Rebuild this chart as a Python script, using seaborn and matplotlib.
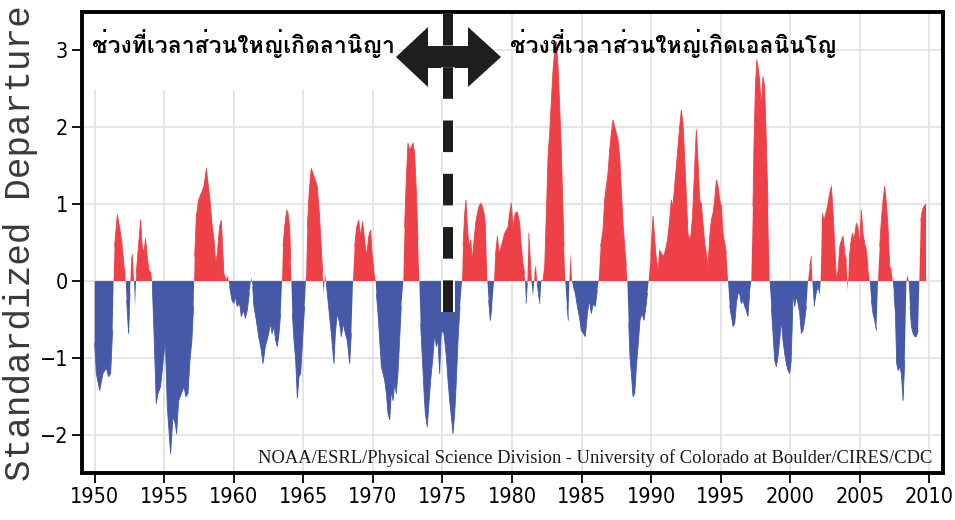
import numpy as np
import pandas as pd
import matplotlib
matplotlib.use("Agg")
import matplotlib.pyplot as plt
import seaborn as sns
from matplotlib import font_manager
from matplotlib.ft2font import FT2Font
from matplotlib.font_manager import FontProperties
from matplotlib.patches import Polygon, Rectangle
import matplotlib.patheffects as pe

# ---------------- data ----------------
t_1950s = [1950.0, 1950.12, 1950.36, 1950.6, 1950.84, 1951.0, 1951.15, 1951.29, 1951.36, 1951.43,
           1951.63, 1951.79, 1951.96, 1952.11, 1952.2, 1952.3, 1952.44, 1952.54, 1952.63, 1952.73,
           1952.83, 1952.9, 1952.99, 1953.11, 1953.3, 1953.42, 1953.54, 1953.66, 1953.78, 1953.9,
           1954.07, 1954.14, 1954.26, 1954.43, 1954.55, 1954.74, 1954.93, 1955.08, 1955.22, 1955.46,
           1955.63, 1955.8, 1955.89, 1956.04, 1956.23, 1956.42, 1956.56, 1956.71, 1956.85, 1956.99,
           1957.11, 1957.19, 1957.31, 1957.47, 1957.67, 1957.86, 1958.03, 1958.15, 1958.29, 1958.43,
           1958.58, 1958.7, 1958.82, 1958.98, 1959.1, 1959.2, 1959.29, 1959.44, 1959.58, 1959.7, 1959.87]
v_1950s = [-0.81, -1.2, -1.42, -1.2, -1.13, -1.24, -1.2, -0.64, 0.0, 0.45,
           0.86, 0.7, 0.49, 0.19, 0.1, -0.25, -0.68, -0.16, 0.27, 0.34,
           0.0, -0.33, 0.1, 0.36, 0.79, 0.45, 0.36, 0.55, 0.32, 0.14,
           0.1, -0.03, -0.64, -1.59, -1.46, -1.37, -1.03, -0.77, -1.63, -2.24,
           -1.76, -1.85, -1.98, -1.55, -1.46, -1.37, -1.5, -1.46, -1.03, -0.77,
           -0.33, 0.32, 0.84, 1.05, 1.14, 1.23, 1.46, 1.27, 1.05, 0.75,
           0.53, 0.23, 0.36, 0.71, 0.79, 0.45, 0.1, 0.01, 0.06, -0.07, -0.25]

t_1960s = [1960.01, 1960.11, 1960.25, 1960.42, 1960.54, 1960.69, 1960.83, 1960.97, 1961.12, 1961.26,
           1961.36, 1961.45, 1961.62, 1961.79, 1961.98, 1962.1, 1962.27, 1962.46, 1962.65, 1962.75,
           1962.89, 1963.01, 1963.13, 1963.25, 1963.37, 1963.47, 1963.54, 1963.66, 1963.8, 1963.9,
           1964.02, 1964.09, 1964.14, 1964.21, 1964.33, 1964.45, 1964.57, 1964.69, 1964.81, 1964.97,
           1965.09, 1965.19, 1965.29, 1965.43, 1965.57, 1965.69, 1965.86, 1966.0, 1966.15, 1966.29,
           1966.39, 1966.46, 1966.56, 1966.65, 1966.77, 1966.89, 1967.01, 1967.2, 1967.3, 1967.44,
           1967.61, 1967.73, 1967.87, 1968.02, 1968.16, 1968.33, 1968.45, 1968.57, 1968.69, 1968.83,
           1968.98, 1969.12, 1969.26, 1969.41, 1969.55, 1969.7, 1969.84, 1969.94]
v_1960s = [-0.29, -0.2, -0.33, -0.29, -0.46, -0.38, -0.48, -0.38, -0.16, 0.05,
           -0.07, -0.33, -0.51, -0.72, -0.9, -1.07, -0.85, -0.72, -0.55, -0.68,
           -0.59, -0.77, -0.85, -0.68, -0.42, 0.0, 0.45, 0.7, 0.92, 0.88,
           0.7, 0.27, 0.0, -0.42, -0.77, -1.03, -1.52, -1.24, -1.2, -0.68,
           -0.33, 0.0, 0.7, 1.18, 1.46, 1.4, 1.31, 1.23, 0.88, 0.45,
           0.1, -0.16, 0.1, -0.03, -0.25, -0.46, -0.68, -1.07, -0.68, -0.42,
           -0.55, -0.72, -0.55, -0.68, -0.77, -1.07, -0.68, 0.0, 0.45, 0.7,
           0.79, 0.58, 0.77, 0.53, 0.32, 0.58, 0.66, 0.36]

t_1970s = [1970.08, 1970.2, 1970.25, 1970.37, 1970.49, 1970.61, 1970.73, 1970.85, 1970.97, 1971.09,
           1971.21, 1971.33, 1971.45, 1971.56, 1971.68, 1971.8, 1971.92, 1972.04, 1972.19, 1972.28,
           1972.4, 1972.52, 1972.64, 1972.76, 1972.88, 1973.0, 1973.12, 1973.24, 1973.34, 1973.43,
           1973.55, 1973.67, 1973.77, 1973.91, 1974.01, 1974.15, 1974.32, 1974.44, 1974.56, 1974.68,
           1974.8, 1974.92, 1975.11, 1975.28, 1975.4, 1975.52, 1975.64, 1975.76, 1975.88, 1976.0,
           1976.12, 1976.26, 1976.41, 1976.48, 1976.6, 1976.69, 1976.79, 1976.91, 1977.03, 1977.15,
           1977.27, 1977.39, 1977.51, 1977.63, 1977.75, 1977.87, 1977.99, 1978.11, 1978.23, 1978.32,
           1978.44, 1978.56, 1978.71, 1978.8, 1978.95, 1979.07, 1979.23, 1979.47, 1979.71, 1979.83, 1979.95]
v_1970s = [0.14, 0.0, -0.16, -0.42, -0.77, -1.11, -1.2, -1.29, -1.46, -1.72,
           -1.8, -1.42, -1.55, -1.33, -1.46, -1.2, -0.77, -0.33, 0.0, 0.7,
           1.31, 1.79, 1.7, 1.74, 1.79, 1.66, 1.18, 0.53, 0.0, -0.55,
           -0.98, -1.42, -1.72, -1.89, -1.63, -1.29, -0.98, -0.68, -0.85, -0.77,
           -1.2, -0.64, -0.68, -0.98, -1.29, -1.55, -1.76, -1.98, -1.72, -1.29,
           -0.77, -0.33, 0.0, 0.45, 0.88, 1.05, 0.7, 0.45, 0.53, 0.27,
           0.53, 0.75, 0.88, 0.97, 1.01, 0.97, 0.88, 0.7, 0.0, -0.25,
           -0.51, -0.33, 0.0, 0.32, 0.58, 0.36, 0.45, 0.62, 0.7, 0.88, 1.01]

t_1980s = [1980.07, 1980.24, 1980.38, 1980.55, 1980.67, 1980.79, 1980.91, 1981.01, 1981.1, 1981.2,
           1981.29, 1981.39, 1981.51, 1981.63, 1981.72, 1981.82, 1981.92, 1982.01, 1982.11, 1982.23,
           1982.35, 1982.47, 1982.59, 1982.71, 1982.83, 1982.95, 1983.07, 1983.19, 1983.31, 1983.43,
           1983.55, 1983.67, 1983.74, 1983.83, 1983.95, 1984.05, 1984.12, 1984.22, 1984.31, 1984.41,
           1984.55, 1984.7, 1984.84, 1984.98, 1985.13, 1985.27, 1985.42, 1985.56, 1985.7, 1985.85,
           1985.99, 1986.13, 1986.23, 1986.37, 1986.54, 1986.66, 1986.78, 1986.9, 1987.02, 1987.14,
           1987.26, 1987.38, 1987.5, 1987.62, 1987.74, 1987.86, 1987.98, 1988.1, 1988.22, 1988.29,
           1988.39, 1988.48, 1988.58, 1988.7, 1988.82, 1988.94, 1989.06, 1989.2, 1989.35, 1989.49,
           1989.63, 1989.73, 1989.82, 1989.97]
v_1980s = [0.7, 0.88, 0.9, 0.75, 0.45, 0.23, 0.1, -0.29, -0.03, 0.62,
           0.36, 0.01, -0.2, 0.1, 0.19, -0.03, -0.2, -0.29, 0.01, 0.01,
           0.19, 0.88, 1.61, 1.92, 2.35, 2.74, 3.0, 3.1, 2.78, 2.26,
           1.66, 0.88, 0.45, 0.0, -0.33, -0.51, 0.0, 0.36, 0.0, -0.07,
           -0.16, -0.33, -0.46, -0.64, -0.68, -0.72, -0.42, -0.25, -0.42, -0.29,
           -0.33, -0.12, 0.0, 0.45, 0.66, 1.05, 1.23, 1.4, 1.7, 1.92,
           2.09, 2.0, 1.92, 1.83, 1.61, 1.18, 0.75, 0.45, 0.19, 0.0,
           -0.55, -0.98, -1.2, -1.5, -1.46, -1.11, -0.85, -0.51, -0.42, -0.51,
           -0.33, -0.16, 0.0, 0.32]

t_1990s = [1990.14, 1990.26, 1990.38, 1990.5, 1990.62, 1990.74, 1990.86, 1990.97, 1991.09, 1991.21,
           1991.33, 1991.45, 1991.57, 1991.69, 1991.81, 1991.93, 1992.05, 1992.17, 1992.29, 1992.41,
           1992.53, 1992.65, 1992.77, 1992.89, 1993.01, 1993.13, 1993.25, 1993.37, 1993.49, 1993.61,
           1993.73, 1993.85, 1993.97, 1994.09, 1994.21, 1994.33, 1994.45, 1994.57, 1994.69, 1994.81,
           1994.93, 1995.05, 1995.17, 1995.29, 1995.41, 1995.53, 1995.65, 1995.77, 1995.89, 1996.01,
           1996.13, 1996.25, 1996.36, 1996.48, 1996.6, 1996.73, 1996.84, 1996.96, 1997.08, 1997.2,
           1997.32, 1997.4, 1997.49, 1997.59, 1997.68, 1997.8, 1997.92, 1998.04, 1998.16, 1998.28,
           1998.4, 1998.52, 1998.64, 1998.76, 1998.88, 1999.0, 1999.12, 1999.24, 1999.36, 1999.48,
           1999.6, 1999.72, 1999.84, 1999.96]
v_1990s = [0.84, 0.53, 0.27, 0.14, 0.4, 0.36, 0.32, 0.36, 0.45, 0.58,
           0.79, 1.05, 0.97, 1.23, 1.48, 1.74, 2.0, 2.22, 2.05, 1.61,
           1.1, 0.62, 0.53, 0.62, 0.97, 1.48, 1.96, 1.57, 1.05, 1.0,
           0.75, 0.49, 0.36, 0.19, 0.58, 0.79, 0.88, 1.05, 1.31, 1.23,
           1.05, 0.97, 0.62, 0.49, 0.36, 0.0, -0.33, -0.46, -0.59, -0.55,
           -0.29, -0.16, -0.16, -0.29, -0.25, -0.33, -0.38, -0.46, -0.16, 0.0,
           0.97, 1.83, 2.48, 2.87, 2.78, 2.61, 2.26, 2.65, 2.52, 1.83,
           0.97, 0.0, -0.33, -0.68, -1.03, -1.11, -0.98, -0.77, -0.51, -0.77,
           -0.94, -1.07, -1.16, -1.2]

t_2000s = [2000.06, 2000.14, 2000.2, 2000.32, 2000.44, 2000.56, 2000.68, 2000.8, 2000.92, 2001.04,
           2001.16, 2001.28, 2001.4, 2001.52, 2001.59, 2001.71, 2001.86, 2002.0, 2002.12, 2002.19,
           2002.29, 2002.43, 2002.57, 2002.72, 2002.84, 2002.96, 2003.08, 2003.2, 2003.32, 2003.44,
           2003.56, 2003.68, 2003.8, 2003.92, 2004.04, 2004.13, 2004.23, 2004.35, 2004.47, 2004.59,
           2004.75, 2004.87, 2004.99, 2005.11, 2005.23, 2005.35, 2005.47, 2005.59, 2005.71, 2005.83,
           2005.95, 2006.07, 2006.19, 2006.31, 2006.43, 2006.55, 2006.67, 2006.79, 2006.91, 2007.03,
           2007.15, 2007.27, 2007.37, 2007.46, 2007.56, 2007.65, 2007.75, 2007.87, 2007.99, 2008.11,
           2008.23, 2008.35, 2008.42, 2008.52, 2008.61, 2008.71, 2008.83, 2008.95, 2009.07, 2009.19,
           2009.28, 2009.38, 2009.5, 2009.62, 2009.71, 2009.76]
v_2000s = [-1.05, -0.6, -0.16, -0.33, -0.2, -0.29, -0.42, -0.68, -0.64, -0.51,
           -0.33, 0.0, 0.19, 0.32, 0.0, -0.33, -0.16, -0.07, -0.16, 0.0,
           0.88, 0.79, 0.88, 1.01, 1.14, 1.23, 0.88, 0.45, 0.01, 0.14,
           0.45, 0.53, 0.58, 0.36, 0.27, -0.12, 0.27, 0.49, 0.62, 0.53,
           0.75, 0.7, 0.45, 0.92, 0.62, 0.49, 0.4, 0.19, 0.0, -0.25,
           -0.42, -0.51, -0.64, 0.0, 0.45, 0.79, 1.05, 1.23, 1.01, 0.7,
           0.19, 0.14, 0.0, -0.16, -0.42, -1.07, -1.16, -1.11, -1.2, -1.55,
           -1.03, 0.0, 0.08, 0.0, -0.33, -0.59, -0.68, -0.72, -0.72, -0.64,
           0.0, 0.79, 0.92, 0.97, 0.99, 0.99]

year_ticks = list(range(1950, 2011, 5))
value_ticks = [-2, -1, 0, 1, 2, 3]
ylabel_text = "Standardized Departure"
credit_text = "NOAA/ESRL/Physical Science Division - University of Colorado at Boulder/CIRES/CDC"
label_la_nina = "ช่วงที่เวลาส่วนใหญ่เกิดลานิญา"
label_el_nino = "ช่วงที่เวลาส่วนใหญ่เกิดเอลนินโญ"
divider_year = 1975.4

df = pd.DataFrame({
    "year": np.concatenate([t_1950s, t_1960s, t_1970s, t_1980s, t_1990s, t_2000s]),
    "mei": np.concatenate([v_1950s, v_1960s, v_1970s, v_1980s, v_1990s, v_2000s]),
})
sgn = np.sign(df["mei"])
df["seg"] = (sgn != sgn.shift()).cumsum()

RED = "#EE4147"
BLUE = "#4559A8"

# ---------------- fonts ----------------
sns.set_theme(style="whitegrid")
plt.rcParams["font.family"] = ["DejaVu Sans"]

def wnum(f):
    w = f.weight
    if isinstance(w, (int, float)):
        return w
    return {"bold": 700, "normal": 400, "regular": 400, "medium": 500,
            "semibold": 600, "light": 300}.get(str(w).lower(), 400)

def font_file_with(sample, target_weight=700):
    cands = []
    for f in font_manager.fontManager.ttflist:
        try:
            cmap = FT2Font(f.fname).get_charmap()
        except Exception:
            continue
        if all(ord(c) in cmap for c in sample):
            cands.append(f)
    if not cands:
        return None
    cands.sort(key=lambda f: (f.style != "normal", abs(wnum(f) - target_weight)))
    return cands[0].fname

names = {f.name for f in font_manager.fontManager.ttflist}
thai_file = font_file_with("ชวงทเลาสนใหญกิดานโ")
thai_fp = (FontProperties(fname=thai_file, size=16.5) if thai_file
           else FontProperties(family="DejaVu Sans", weight="bold", size=16.5))

if "Liberation Sans Narrow" in names:
    tick_fp = FontProperties(family="Liberation Sans Narrow", size=17)
else:
    tick_fp = FontProperties(family="DejaVu Sans", stretch="condensed", size=15.5)

# ---------------- figure ----------------
W, H = 955, 520
fig = plt.figure(figsize=(W / 100, H / 100), dpi=100)
fig.patch.set_facecolor("white")
ax = fig.add_axes([82 / W, 1 - 473 / H, (943 - 82) / W, (473 - 12) / H])
ax.set_facecolor("white")

def fx(px):
    return px / W

def fy(py):
    return 1 - py / H

ax.fill_between(df["year"], df["mei"], 0, where=df["mei"] >= 0, interpolate=True,
                color=RED, lw=0, zorder=2)
ax.fill_between(df["year"], df["mei"], 0, where=df["mei"] <= 0, interpolate=True,
                color=BLUE, lw=0, zorder=2)
sns.lineplot(data=df[df["mei"] > 0], x="year", y="mei", units="seg", estimator=None,
             color=RED, lw=0.6, ax=ax, zorder=2)
sns.lineplot(data=df[df["mei"] < 0], x="year", y="mei", units="seg", estimator=None,
             color=BLUE, lw=0.6, ax=ax, zorder=2)

ax.set_xlim(1949.09, 2010.98)
ax.set_ylim(-2.49, 3.49)
ax.set_xticks(year_ticks)
ax.set_yticks(value_ticks)
ax.set_xlabel("")
ax.set_ylabel("")
ax.set_axisbelow(True)
ax.grid(True, color="#e3e3e3", lw=1.3)

for s in ax.spines.values():
    s.set_visible(True)
    s.set_color("black")
    s.set_linewidth(2.8)

ax.tick_params(axis="both", which="major", bottom=True, left=True, direction="out",
               length=7, width=1.3, color="black", labelcolor="black", pad=3)
for lab in ax.get_xticklabels() + ax.get_yticklabels():
    lab.set_fontproperties(tick_fp)

# white panel behind the left caption
ax.add_patch(Rectangle((1949.09, 2.48), 1971.8 - 1949.09, 1.2, facecolor="white",
                       edgecolor="none", zorder=1.2))

# double-headed arrow
arrow_px = [(396, 57), (428, 27), (428, 46), (468, 46), (468, 27), (501, 57),
            (468, 87), (468, 68), (428, 68), (428, 87)]
ax.add_patch(Polygon([(fx(x), fy(y)) for x, y in arrow_px], closed=True,
                     facecolor="#1e1e1e", edgecolor="none", transform=fig.transFigure,
                     clip_on=False, zorder=6))

# dashed divider
ax.plot([divider_year, divider_year], [-0.40, 3.65], color="#1e1e1e", lw=7.2,
        dashes=(3.16, 2.17), solid_capstyle="butt", dash_capstyle="butt",
        clip_on=False, zorder=7,
        path_effects=[pe.Stroke(linewidth=10, foreground="white"), pe.Normal()])

# captions
ax.text(fx(92), fy(53), label_la_nina, fontproperties=thai_fp, color="black",
        ha="left", va="baseline", transform=fig.transFigure, zorder=8)
ax.text(fx(510), fy(53), label_el_nino, fontproperties=thai_fp, color="black",
        ha="left", va="baseline", transform=fig.transFigure, zorder=8)

ax.text(fx(932), fy(463), credit_text, family="Liberation Serif", fontsize=13.3,
        color="#1a1a1a", ha="right", va="baseline", transform=fig.transFigure, zorder=8)

fig.text(fx(21), fy(243), ylabel_text, rotation=90, family="Liberation Mono",
         fontsize=26, color="#3a3a3a", ha="center", va="center")

fig.savefig("out.png", dpi=100)
